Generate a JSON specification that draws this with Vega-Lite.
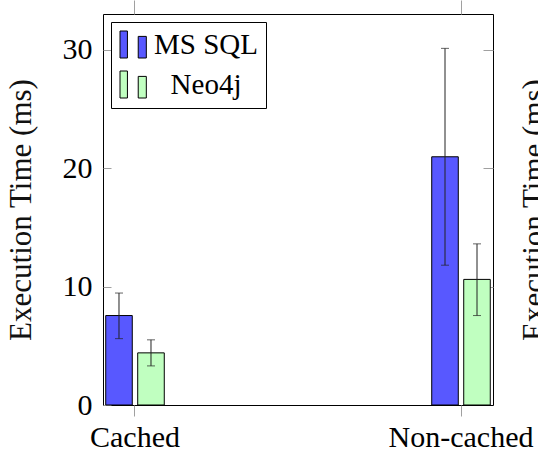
{
  "$schema": "https://vega.github.io/schema/vega-lite/v6.json",
  "width": 390,
  "height": 391,
  "autosize": {"type": "none"},
  "padding": {"left": 103, "top": 14, "right": 45, "bottom": 51},
  "config": {
    "font": "Liberation Serif",
    "view": {"stroke": "black", "strokeWidth": 1},
    "axis": {
      "domain": false,
      "grid": false,
      "tickColor": "#a0a0a0",
      "labelFont": "Liberation Serif",
      "titleFont": "Liberation Serif",
      "labelFontSize": 30,
      "titleFontSize": 31,
      "titleFontWeight": "normal",
      "labelColor": "black",
      "titleColor": "#111111"
    },
    "legend": {
      "orient": "top-left",
      "offset": 8,
      "strokeColor": "black",
      "fillColor": "white",
      "padding": 8,
      "symbolType": "M-1,-1H-0.45V1H-1Z M0.35,-0.6H0.95V1H0.35Z",
      "symbolSize": 729,
      "symbolStrokeColor": "black",
      "symbolStrokeWidth": 1,
      "labelFont": "Liberation Serif",
      "labelFontSize": 29,
      "labelColor": "black",
      "labelAlign": "center",
      "labelOffset": 58,
      "rowPadding": 9
    }
  },
  "data": {
    "values": [
      {"cond": "Cached", "db": "MS SQL", "value": 7.55, "lo": 5.6, "hi": 9.45},
      {"cond": "Cached", "db": "Neo4j", "value": 4.4, "lo": 3.3, "hi": 5.5},
      {"cond": "Non-cached", "db": "MS SQL", "value": 20.95, "lo": 11.8, "hi": 30.1},
      {"cond": "Non-cached", "db": "Neo4j", "value": 10.6, "lo": 7.55, "hi": 13.6}
    ]
  },
  "layer": [
    {
      "mark": {"type": "bar", "stroke": "black", "strokeWidth": 1},
      "encoding": {
        "x": {
          "field": "cond", "type": "nominal",
          "scale": {"paddingInner": 0.8037, "paddingOuter": 0},
          "axis": {"orient": "bottom", "title": null, "labelAngle": 0, "tickSize": 11, "labelPadding": 6}
        },
        "xOffset": {
          "field": "db", "type": "nominal",
          "scale": {"paddingInner": 0.17, "paddingOuter": 0.085}
        },
        "y": {
          "field": "value", "type": "quantitative",
          "scale": {"domain": [0, 33], "nice": false},
          "axis": {"orient": "left", "values": [0, 10, 20, 30], "tickSize": -8, "labelPadding": 19, "title": "Execution Time (ms)", "titlePadding": 25}
        },
        "fill": {
          "field": "db", "type": "nominal",
          "scale": {"domain": ["MS SQL", "Neo4j"], "range": ["#5858ff", "#c0ffc0"]},
          "legend": {"title": null}
        }
      }
    },
    {
      "mark": {"type": "rule", "color": "#222222", "strokeWidth": 1},
      "encoding": {
        "x": {"field": "cond", "type": "nominal", "axis": {"orient": "top", "labels": false, "title": null, "tickSize": 14}},
        "xOffset": {"field": "db", "type": "nominal"},
        "y": {
          "field": "lo", "type": "quantitative",
          "axis": {"orient": "right", "labels": false, "values": [10, 20, 30], "tickSize": -10, "title": "Execution Time (ms)", "titleAngle": 270, "titleBaseline": "alphabetic", "titlePadding": 50}
        },
        "y2": {"field": "hi"}
      }
    },
    {
      "mark": {"type": "tick", "color": "#222222", "size": 8, "thickness": 1},
      "encoding": {
        "x": {"field": "cond", "type": "nominal", "axis": null},
        "xOffset": {"field": "db", "type": "nominal"},
        "y": {"field": "lo", "type": "quantitative", "axis": null}
      }
    },
    {
      "mark": {"type": "tick", "color": "#222222", "size": 8, "thickness": 1},
      "encoding": {
        "x": {"field": "cond", "type": "nominal", "axis": null},
        "xOffset": {"field": "db", "type": "nominal"},
        "y": {"field": "hi", "type": "quantitative", "axis": null}
      }
    }
  ],
  "resolve": {"axis": {"x": "independent", "y": "independent"}}
}
